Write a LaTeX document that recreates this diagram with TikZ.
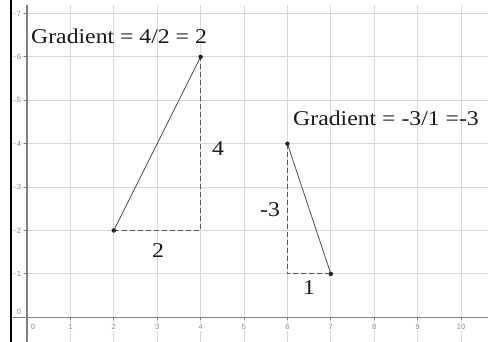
\documentclass[tikz,border=0pt]{standalone}
\usepackage{fontspec}
\setmainfont{Liberation Serif}
\newfontfamily\ticksfont{Liberation Sans}
\newcommand{\wide}[1]{\scalebox{1.13}[1]{#1}}
\begin{document}
\begin{tikzpicture}[x=43.4pt,y=43.4pt,
  gridline/.style={draw=black!15,line width=0.9pt},
  axisline/.style={draw=black!50,line width=1.2pt},
  ticklab/.style={font=\ticksfont\fontsize{7.5}{8}\selectfont,text=black!45,fill=white,inner sep=1pt},
  bigtext/.style={font=\fontsize{21}{24}\selectfont,text=black!90,inner sep=0pt},
  solidseg/.style={draw=black!70,line width=0.8pt},
  dashseg/.style={draw=black!65,line width=1pt,dash pattern=on 5pt off 3pt},
  ptdot/.style={circle,fill=black!85,inner sep=0pt,minimum size=4.5pt}]
\useasboundingbox[fill=white] (-0.622,-0.569) rectangle (10.668,7.311);
% grid
\foreach \i in {1,...,10} \draw[gridline] (\i,-0.569) -- (\i,7.196);
\foreach \j in {1,...,7} \draw[gridline] (-0.369,\j) -- (10.62,\j);
% tick labels
\foreach \i in {1,...,10} \node[ticklab] (xl\i) at (\i,-0.223) {\i};
\node[ticklab] (xl0) at (0.14,-0.223) {0};
\foreach \j in {1,...,7} \node[ticklab] (yl\j) at (-0.184,\j) {\j};
\node[ticklab] (yl0) at (-0.184,0.12) {0};
% axes
\draw[axisline] (-0.369,0) -- (10.62,0);
\draw[axisline] (0,-0.569) -- (0,7.196);
\foreach \i in {1,...,10} \draw[axisline,line width=0.8pt] (\i,0) -- (\i,-0.07);
\foreach \j in {1,...,7} \draw[axisline,line width=0.8pt] (0,\j) -- (-0.07,\j);
% left border
\draw[black,line width=1.3pt] (-0.369,-0.569) -- (-0.369,7.311);
% triangle 1
\coordinate (A) at (2,2);
\coordinate (B) at (4,6);
\coordinate (C) at (4,2);
\draw[dashseg] (A) -- (C) -- (B);
\draw[solidseg] (A) -- (B);
\node[ptdot] (Ad) at (A) {};
\node[ptdot] (Bd) at (B) {};
% triangle 2
\coordinate (D) at (6,4);
\coordinate (E) at (7,1);
\coordinate (F) at (6,1);
\draw[dashseg] (D) -- (F) -- (E);
\draw[solidseg] (D) -- (E);
\node[ptdot] (Dd) at (D) {};
\node[ptdot] (Ed) at (E) {};
% texts
\node[bigtext,anchor=base west] (g1) at (0.092,6.32) {\wide{Gradient = 4/2 = 2}};
\node[bigtext,anchor=base west] (g2) at (6.13,4.43) {\wide{Gradient = -3/1 =-3}};
\node[bigtext] (l4) at (4.40,3.88) {\wide{4}};
\node[bigtext] (l2) at (3.02,1.53) {\wide{2}};
\node[bigtext] (lm3) at (5.60,2.49) {\wide{-3}};
\node[bigtext] (l1) at (6.50,0.675) {\wide{1}};
\end{tikzpicture}
\end{document}
